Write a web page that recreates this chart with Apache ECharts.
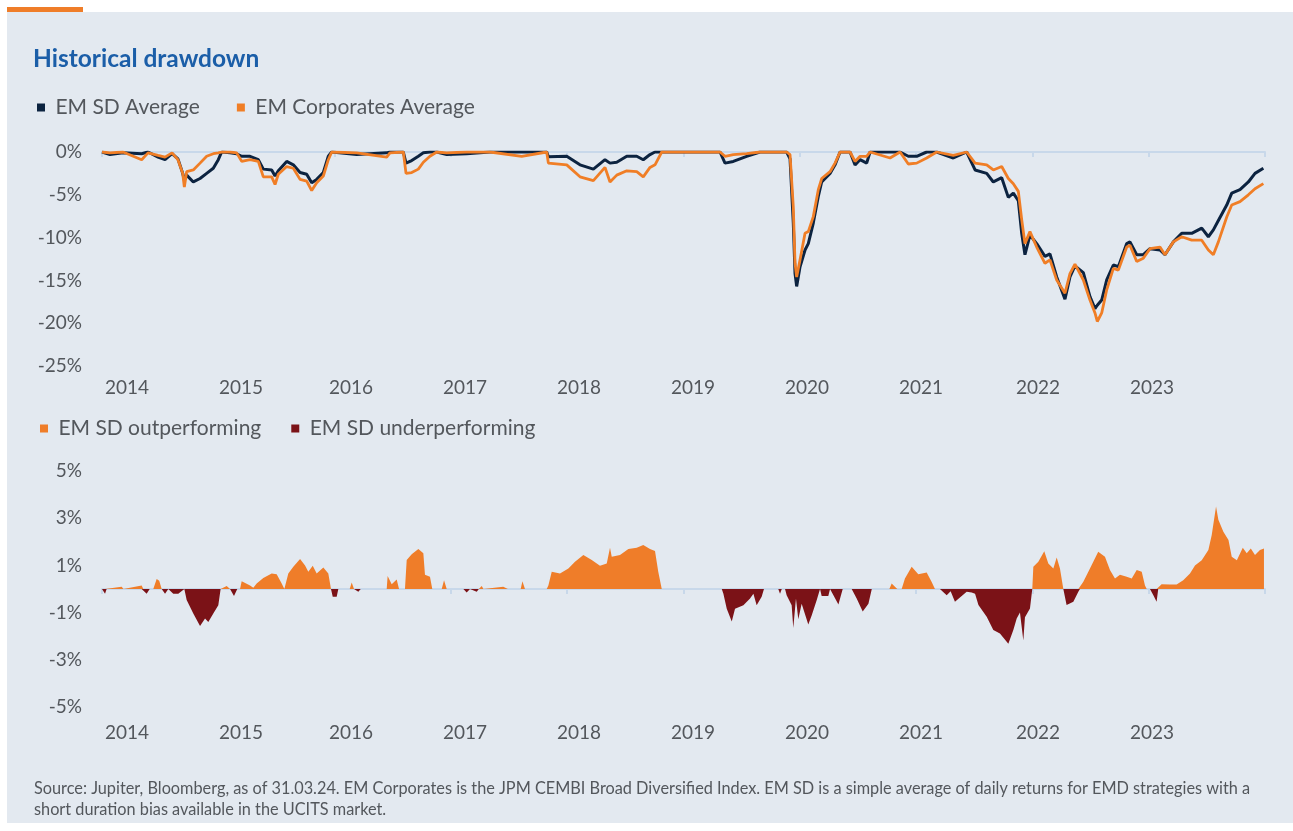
<!DOCTYPE html>
<html>
<head>
<meta charset="utf-8">
<script src="https://cdn.jsdelivr.net/npm/echarts@6/dist/echarts.min.js"></script>
<style>
  html, body { margin: 0; padding: 0; background: #fff; }
  #chart { width: 1293px; height: 831px; }
</style>
</head>
<body>
<div id="chart"></div>
<script>
// time as decimal years (data runs 31.03.2014 - 31.03.2024)
var ddTime = [2014.250,2014.319,2014.431,2014.591,2014.646,2014.732,2014.792,2014.852,2014.903,2014.944,
  2014.958,2014.978,2015.035,2015.093,2015.150,2015.207,2015.250,2015.279,2015.351,2015.408,
  2015.451,2015.523,2015.594,2015.637,2015.709,2015.738,2015.766,2015.838,2015.895,2015.953,
  2016.010,2016.053,2016.096,2016.153,2016.196,2016.225,2016.440,2016.698,2016.726,2016.841,
  2016.864,2016.913,2016.970,2017.013,2017.070,2017.128,2017.214,2017.386,2017.586,2017.859,
  2018.074,2018.088,2018.246,2018.360,2018.475,2018.575,2018.618,2018.676,2018.762,2018.848,
  2018.904,2018.962,2019.005,2019.063,2019.564,2019.607,2019.678,2019.793,2019.908,2020.137,
  2020.166,2020.194,2020.209,2020.223,2020.252,2020.295,2020.323,2020.366,2020.409,2020.438,
  2020.510,2020.553,2020.596,2020.682,2020.725,2020.768,2020.825,2020.854,2021.026,2021.112,
  2021.183,2021.255,2021.341,2021.427,2021.570,2021.685,2021.757,2021.857,2021.914,2021.986,
  2022.043,2022.086,2022.129,2022.158,2022.186,2022.229,2022.287,2022.358,2022.401,2022.459,
  2022.530,2022.573,2022.616,2022.688,2022.745,2022.788,2022.808,2022.846,2022.889,2022.946,
  2022.989,2023.061,2023.089,2023.147,2023.204,2023.261,2023.347,2023.390,2023.462,2023.534,
  2023.620,2023.706,2023.763,2023.806,2023.849,2023.921,2023.964,2024.035,2024.107,2024.164,
  2024.236];
var emSdAvg = [0,-0.3,-0.1,-0.2,0,-0.6,-0.9,-0.2,-0.8,-2.5,
  -3.3,-2.7,-3.5,-3.1,-2.5,-1.9,-0.9,0,-0.1,-0.2,
  -0.5,-0.5,-0.9,-2.0,-2.1,-2.8,-2.2,-1.1,-1.5,-2.4,
  -2.6,-3.6,-3.2,-2.4,-0.5,0,-0.3,-0.1,0,0,
  -1.3,-1.0,-0.5,-0.1,0,0,-0.3,-0.2,0,0,
  0,-0.55,-0.5,-1.5,-2.0,-0.9,-1.3,-1.2,-0.5,-0.5,
  -0.9,-0.3,0,0,0,-1.3,-1.1,-0.5,0,0,
  -0.8,-8.3,-14.2,-15.7,-13.4,-11.45,-10.7,-8.3,-5.2,-3.5,
  -2.5,-1.5,0,0,-1.5,-0.9,-1.3,0,0,0,
  -0.5,-0.5,0,0,-0.7,0,-2.1,-2.5,-3.5,-3.0,
  -5.3,-4.8,-5.7,-9.5,-12.0,-9.7,-10.7,-12.2,-11.9,-14.6,
  -17.2,-14.6,-13.3,-14.1,-16.9,-18.3,-17.9,-17.3,-14.95,-13.2,
  -13.4,-10.7,-10.5,-12.0,-12.0,-11.3,-11.45,-12.0,-10.5,-9.5,
  -9.5,-8.9,-9.9,-9.1,-8.0,-6.2,-4.8,-4.4,-3.5,-2.5,
  -1.9];
var emCorpAvg = [0,-0.1,0,-0.9,-0.1,-0.4,-0.6,-0.1,-0.9,-2.5,
  -4.1,-2.3,-2.1,-1.3,-0.5,-0.2,-0.1,0,0,-0.1,
  -1.1,-0.9,-1.1,-2.9,-2.9,-3.8,-2.6,-1.7,-1.9,-3.2,
  -3.4,-4.5,-3.6,-2.8,-0.9,0,-0.1,-0.6,-0.1,0,
  -2.5,-2.4,-2.0,-1.2,-0.5,0,-0.1,0,0,-0.5,
  0,-1.3,-1.5,-2.9,-3.35,-1.8,-3.5,-2.7,-2.2,-2.3,
  -2.9,-1.8,-1.5,0,0,-0.5,-0.3,-0.2,0,0,
  -0.3,-6.4,-13.0,-14.6,-12.6,-9.5,-9.3,-7.55,-4.4,-3.1,
  -2.3,-1.3,0,0,-1.1,-0.5,-0.5,0,-0.7,0,
  -1.4,-1.3,-0.7,0,-0.4,0,-1.3,-1.5,-2.1,-1.7,
  -3.1,-3.7,-4.6,-7.9,-10.7,-9.3,-11.1,-13.0,-12.6,-14.95,
  -16.5,-14.2,-13.1,-14.95,-17.3,-18.8,-19.8,-18.8,-16.1,-13.6,
  -13.8,-11.1,-10.9,-12.8,-12.4,-11.3,-11.1,-12.0,-10.5,-9.9,
  -10.3,-10.3,-11.45,-12.0,-10.5,-7.6,-6.2,-5.8,-5.0,-4.3,
  -3.7];

// EM SD relative performance vs EM Corporates (%)
var relTime = [2014.250,2014.276,2014.290,2014.419,2014.435,2014.591,2014.605,2014.634,2014.660,2014.691,
  2014.720,2014.742,2014.763,2014.792,2014.820,2014.863,2014.906,2014.958,2014.978,2015.035,
  2015.093,2015.136,2015.164,2015.207,2015.250,2015.270,2015.322,2015.351,2015.385,2015.413,
  2015.437,2015.451,2015.523,2015.551,2015.580,2015.637,2015.709,2015.752,2015.795,2015.818,
  2015.826,2015.852,2015.895,2015.953,2015.996,2016.024,2016.062,2016.096,2016.153,2016.196,
  2016.219,2016.234,2016.268,2016.282,2016.380,2016.397,2016.417,2016.454,2016.475,2016.698,
  2016.706,2016.741,2016.784,2016.804,2016.855,2016.870,2016.913,2016.970,2017.013,2017.027,
  2017.070,2017.090,2017.171,2017.191,2017.214,2017.357,2017.386,2017.414,2017.472,2017.490,
  2017.515,2017.530,2017.700,2017.740,2017.850,2017.865,2017.887,2018.074,2018.088,2018.117,
  2018.188,2018.260,2018.317,2018.389,2018.461,2018.532,2018.590,2018.618,2018.633,2018.704,
  2018.776,2018.848,2018.904,2018.962,2019.005,2019.033,2019.063,2019.579,2019.593,2019.622,
  2019.665,2019.693,2019.765,2019.822,2019.851,2019.879,2019.922,2019.942,2020.065,2020.080,
  2020.095,2020.123,2020.137,2020.180,2020.194,2020.217,2020.237,2020.266,2020.323,2020.352,
  2020.395,2020.424,2020.438,2020.495,2020.510,2020.524,2020.582,2020.619,2020.696,2020.739,
  2020.791,2020.840,2020.869,2021.020,2021.040,2021.088,2021.126,2021.154,2021.212,2021.269,
  2021.341,2021.384,2021.412,2021.455,2021.513,2021.547,2021.584,2021.642,2021.685,2021.728,
  2021.757,2021.786,2021.857,2021.914,2021.971,2022.043,2022.086,2022.115,2022.143,2022.172,
  2022.186,2022.229,2022.249,2022.258,2022.301,2022.352,2022.387,2022.430,2022.459,2022.487,
  2022.516,2022.530,2022.544,2022.602,2022.645,2022.659,2022.688,2022.745,2022.816,2022.874,
  2022.917,2022.960,2023.003,2023.061,2023.104,2023.147,2023.190,2023.218,2023.233,2023.261,
  2023.290,2023.318,2023.332,2023.361,2023.433,2023.490,2023.547,2023.605,2023.648,2023.706,
  2023.763,2023.792,2023.829,2023.849,2023.892,2023.936,2023.964,2024.008,2024.059,2024.093,
  2024.128,2024.164,2024.207,2024.241];
var relPerf = [0,-0.2,0,0.1,0,0.15,0,-0.2,0,0,
  0.42,0.35,0,-0.2,0,-0.2,-0.2,0,-0.47,-1.04,
  -1.57,-1.25,-1.4,-1.04,-0.69,0,0.13,0,-0.3,0,
  0,0.33,0.15,0.05,0.23,0.47,0.66,0.62,0.23,0,
  0,0.66,0.94,1.27,1.0,0.73,0.98,0.66,0.91,0.66,
  0,-0.33,-0.33,0,0,0.28,0,-0.12,0,0,
  0.55,0.2,0.4,0,0,1.23,1.47,1.7,1.51,0.6,
  0.52,0,0,0.37,0,0,-0.15,0,-0.12,0,
  0.13,0,0.1,0,0,0.33,0,0,0.15,0.73,
  0.66,0.87,1.15,1.44,1.23,0.98,1.08,1.75,1.37,1.44,
  1.69,1.75,1.86,1.69,1.61,0.73,0,0,-0.2,-0.84,
  -1.38,-0.84,-0.69,-0.4,-0.2,-0.69,-0.33,0,0,-0.2,
  0,0,-0.27,-0.69,-1.65,-0.4,-1.28,-0.62,-1.5,-1.12,
  -0.48,0,-0.3,-0.3,0,0,-0.66,0,0,-0.4,
  -0.95,-0.62,0,0,0.23,0,0,0.45,0.94,0.62,
  0.70,0.30,0,0,-0.26,-0.1,-0.54,-0.3,-0.12,-0.15,
  -0.2,-0.68,-1.18,-1.74,-1.89,-2.32,-1.74,-1.25,-1.0,-2.18,
  -1.2,-0.83,0,0.94,1.15,1.6,1.08,0.87,1.33,0.87,
  0,0,-0.68,-0.54,-0.12,0,0.31,0.87,1.58,1.37,
  0.8,0.45,0.6,0.52,0.45,0.8,0.73,0.15,0,0,
  -0.26,-0.54,0,0.2,0.19,0.19,0.37,0.66,1.0,1.22,
  1.65,2.29,3.5,2.93,2.43,2.08,1.37,1.22,1.75,1.51,
  1.72,1.44,1.65,1.72];

// axis marks
var tickPos = [2014.25,2015.25,2016.25,2017.25,2018.25,2019.25,2020.25,2021.25,2022.25,2023.25,2024.25];
var labelPos = [2014.465,2015.445,2016.391,2017.371,2018.352,2019.332,2020.312,2021.292,2022.298,2023.278];
var yTicksBottom = [5,3,1,-1,-3,-5];

var footer = 'Source: Jupiter, Bloomberg, as of 31.03.24. EM Corporates is the JPM CEMBI Broad Diversified Index. EM SD is a simple average of daily returns for EMD strategies with a\nshort duration bias available in the UCITS market.';

var FONT = 'Lato';
var AXIS_BLUE = '#c8d8ea';
var TXT = '#53575c';

function pairs(xs, ys, fn) {
    return xs.map(function (x, i) { return [x, fn ? fn(ys[i]) : ys[i]]; });
}

function dataAxis(grid) {
    return {
        type: 'value', gridIndex: grid, min: 2014.25, max: 2024.25,
        position: 'bottom',
        axisLine: { onZero: true, lineStyle: { color: AXIS_BLUE, width: 2 } },
        axisTick: { show: true, customValues: tickPos, length: 5, lineStyle: { color: AXIS_BLUE, width: 2 } },
        axisLabel: { show: false },
        splitLine: { show: false }
    };
}
function labelAxis(grid, margin) {
    return {
        type: 'value', gridIndex: grid, min: 2014.25, max: 2024.25,
        position: 'bottom',
        axisLine: { show: false, onZero: false },
        axisTick: { show: false },
        axisLabel: {
            customValues: labelPos, margin: margin,
            fontFamily: FONT, fontSize: 19, color: TXT,
            formatter: function (v) { return String(Math.floor(v)); }
        },
        splitLine: { show: false }
    };
}

var option = {
    backgroundColor: '#ffffff',
    animation: false,
    graphic: [
        { type: 'rect', z: -10, shape: { x: 7, y: 12, width: 1286, height: 811 }, style: { fill: '#e3e9f0' } },
        { type: 'rect', z: -9, shape: { x: 7, y: 7, width: 76, height: 5 }, style: { fill: '#ef7d29' } }
    ],
    title: [
        {
            text: 'Historical drawdown', left: 28, top: 42,
            textStyle: { fontFamily: FONT, fontSize: 24.5, fontWeight: 'bold', color: '#1b5ea8' }
        },
        {
            text: footer, left: 29, top: 773,
            textStyle: { fontFamily: FONT, fontSize: 16.3, fontWeight: 'normal', color: TXT, lineHeight: 21 }
        }
    ],
    legend: [
        {
            data: ['EM SD Average', 'EM Corporates Average'],
            left: 32, top: 92, icon: 'rect', itemWidth: 8, itemHeight: 8, itemGap: 37,
            formatter: function (n) { return ' ' + n; },
            textStyle: { fontFamily: FONT, fontSize: 21, color: TXT }
        },
        {
            data: ['EM SD outperforming', 'EM SD underperforming'],
            left: 35, top: 413, icon: 'rect', itemWidth: 8, itemHeight: 8, itemGap: 30,
            formatter: function (n) { return ' ' + n; },
            textStyle: { fontFamily: FONT, fontSize: 21, color: TXT }
        }
    ],
    grid: [
        { left: 102, right: 28, top: 152, height: 214 },
        { left: 102, right: 28, top: 471, height: 236 }
    ],
    xAxis: [dataAxis(0), labelAxis(0, 12), dataAxis(1), labelAxis(1, 16)],
    yAxis: [
        {
            type: 'value', gridIndex: 0, min: -25, max: 0, interval: 5,
            axisLine: { show: false }, axisTick: { show: false }, splitLine: { show: false },
            axisLabel: { formatter: '{value}%', margin: 20, fontFamily: FONT, fontSize: 19, color: TXT }
        },
        {
            type: 'value', gridIndex: 1, min: -5, max: 5,
            axisLine: { show: false }, axisTick: { show: false }, splitLine: { show: false },
            axisLabel: { customValues: yTicksBottom, formatter: '{value}%', margin: 20, fontFamily: FONT, fontSize: 19, color: TXT }
        }
    ],
    series: [
        {
            name: 'EM SD Average', type: 'line', xAxisIndex: 0, yAxisIndex: 0,
            showSymbol: false, color: '#0c2340',
            lineStyle: { width: 3, color: '#0c2340' },
            data: pairs(ddTime, emSdAvg)
        },
        {
            name: 'EM Corporates Average', type: 'line', xAxisIndex: 0, yAxisIndex: 0,
            showSymbol: false, color: '#f07e26',
            lineStyle: { width: 2.8, color: '#f07e26' },
            data: pairs(ddTime, emCorpAvg)
        },
        {
            name: 'EM SD outperforming', type: 'line', xAxisIndex: 2, yAxisIndex: 1,
            showSymbol: false, color: '#ef7d29',
            lineStyle: { width: 0 },
            areaStyle: { color: '#ef7d29', opacity: 1 },
            data: pairs(relTime, relPerf, function (v) { return v > 0 ? v : 0; })
        },
        {
            name: 'EM SD underperforming', type: 'line', xAxisIndex: 2, yAxisIndex: 1,
            showSymbol: false, color: '#7b1217',
            lineStyle: { width: 0 },
            areaStyle: { color: '#7b1217', opacity: 1 },
            data: pairs(relTime, relPerf, function (v) { return v < 0 ? v : 0; })
        }
    ]
};

var chart = echarts.init(document.getElementById('chart'));
chart.setOption(option);
window.addEventListener('resize', function () { chart.resize(); });
</script>
</body>
</html>
